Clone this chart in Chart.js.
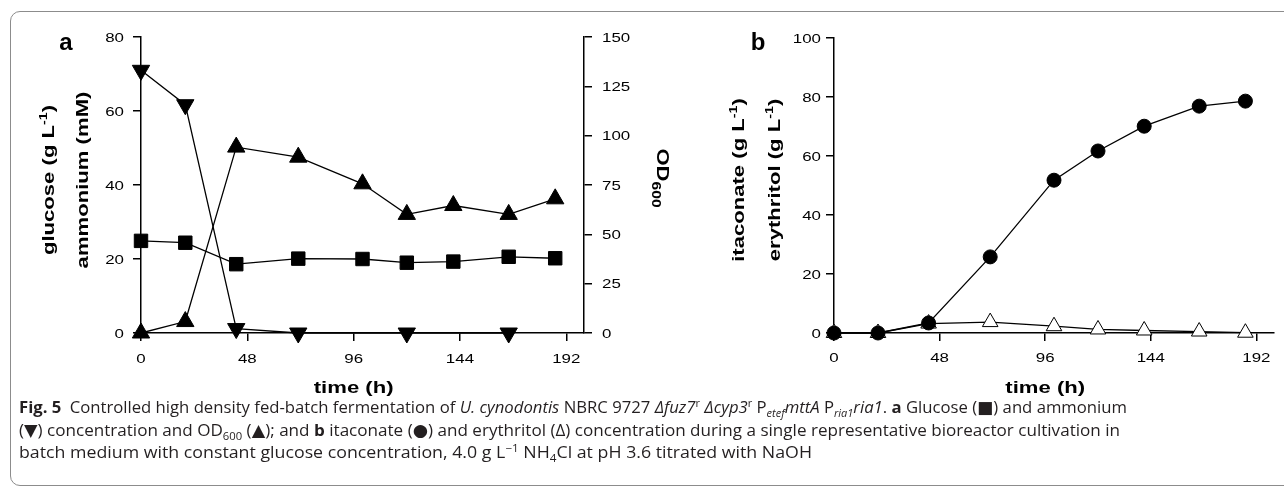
<!DOCTYPE html>
<html>
<head>
<meta charset="utf-8">
<script src="https://cdn.jsdelivr.net/npm/chart.js@4.4.1/dist/chart.umd.min.js"></script>
<style>
html, body { margin: 0; padding: 0; background: #fff; width: 1284px; height: 494px; overflow: hidden; }
#frame { position: absolute; left: 10px; top: 11px; width: 1320px; height: 475px; border: 1.5px solid #8c8c8c; border-radius: 10px; box-sizing: border-box; }
#chartA { position: absolute; left: 0; top: 0; }
#chartB { position: absolute; left: 640px; top: 0; }
#caption { position: absolute; left: 19px; top: 396px; font-family: "Open Sans", "Noto Sans", sans-serif; font-size: 16.5px; color: #231f20; }
#caption div { white-space: nowrap; line-height: 22.5px; transform-origin: 0 0; width: max-content; }
#caption sub, #caption sup { font-size: 66%; line-height: 0; }
#caption .sim { font-family: "DejaVu Sans", sans-serif; font-size: 17px; }
</style>
</head>
<body>
<div id="frame"></div>
<canvas id="chartA" width="700" height="400"></canvas>
<canvas id="chartB" width="644" height="400"></canvas>
<div id="caption">
  <div data-fin="1127"><b>Fig. 5</b>&ensp;Controlled high density fed-batch fermentation of <i>U. cynodontis</i> NBRC 9727 <i>Δfuz7</i><sup>r</sup> <i>Δcyp3</i><sup>r</sup> P<sub><i>etef</i></sub><i>mttA</i> P<sub><i>ria1</i></sub><i>ria1</i>. <b>a</b> Glucose (<span class="sim">■</span>) and ammonium</div>
  <div data-fin="1120">(<span class="sim">▼</span>) concentration and OD<sub>600</sub> (<span class="sim">▲</span>); and <b>b</b> itaconate (<span class="sim">●</span>) and erythritol (Δ) concentration during a single representative bioreactor cultivation in</div>
  <div data-fin="812">batch medium with constant glucose concentration, 4.0 g L<sup>−1</sup> NH<sub>4</sub>Cl at pH 3.6 titrated with NaOH</div>
</div>
<script>
// valores
const tiempoA = [0, 20, 43, 71, 100, 120, 141, 166, 187];
const glucosa = [24.9, 24.4, 18.6, 20.1, 20.0, 19.0, 19.3, 20.6, 20.2];
const amonio = [71.0, 61.7, 1.2, 0, null, 0, null, 0, null];
const od600 = [0, 5.8, 94.2, 89.1, 75.6, 60.1, 64.6, 60.1, 68.0];

const tiempoB = [0, 20, 43, 71, 100, 120, 141, 166, 187];
const itaconato = [0, 0, 3.4, 25.8, 51.8, 61.7, 70.1, 76.9, 78.6];
const eritritol = [0, 0, 3.2, 3.7, 2.3, 1.2, 0.85, 0.5, 0.1];

const ticksTiempo = [0, 48, 96, 144, 192];
const ticksIzqA = [0, 20, 40, 60, 80];
const ticksDerA = [0, 25, 50, 75, 100, 125, 150];
const ticksIzqB = [0, 20, 40, 60, 80, 100];

const FUENTE = '"Liberation Sans", Arial, sans-serif';
const ESTIRA = 1.3;

function puntos(xs, ys) {
  return xs.map((x, i) => ({ x: x, y: ys[i] }));
}

// texto con partes (super/subindices), rotado y estirado a lo largo
function texto(ctx, partes, x, y, rot, sx, align) {
  ctx.save();
  ctx.translate(x, y);
  ctx.rotate(rot);
  ctx.scale(sx, 1);
  let ancho = 0;
  partes.forEach(p => { ctx.font = p.f; p.w = ctx.measureText(p.t).width; ancho += p.w; });
  let cx = align === 'center' ? -ancho / 2 : (align === 'right' ? -ancho : 0);
  ctx.textAlign = 'left';
  ctx.textBaseline = 'alphabetic';
  ctx.fillStyle = '#000';
  partes.forEach(p => { ctx.font = p.f; ctx.fillText(p.t, cx, p.dy || 0); cx += p.w; });
  ctx.restore();
}

const B17 = 'bold 17px ' + FUENTE;
const B11 = 'bold 11px ' + FUENTE;
const R13 = '13px ' + FUENTE;

function gL(nombre) {
  return [{ t: nombre + ' (g L', f: B17 }, { t: '-1', f: B11, dy: -7 }, { t: ')', f: B17 }];
}

function ejeFijo(lista) {
  return {
    afterBuildTicks: s => { s.ticks = lista.map(v => ({ value: v })); },
    afterFit: s => { if (s.isHorizontal()) s.height = 0; else s.width = 0; }
  };
}

function estiloEje(pos, min, max, lista) {
  return Object.assign({
    type: 'linear', position: pos, min: min, max: max,
    ticks: { display: false },
    grid: { display: true, drawOnChartArea: false, color: '#000', lineWidth: 1.5, tickLength: 8 },
    border: { display: true, color: '#000', width: 1.5 }
  }, ejeFijo(lista));
}

function etiquetas(cfg) {
  return {
    id: 'etiquetas',
    afterDraw(chart) {
      const ctx = chart.ctx;
      const ca = chart.chartArea;
      const sx = chart.scales.x;
      sx.ticks.forEach(t => {
        texto(ctx, [{ t: String(t.value), f: R13 }], sx.getPixelForValue(t.value), ca.bottom + cfg.xLab, 0, ESTIRA, 'center');
      });
      const sy = chart.scales.y;
      sy.ticks.forEach(t => {
        texto(ctx, [{ t: String(t.value), f: R13 }], ca.left - cfg.yLab, sy.getPixelForValue(t.value) + 4.7, 0, ESTIRA, 'right');
      });
      if (chart.scales.y2) {
        const s2 = chart.scales.y2;
        s2.ticks.forEach(t => {
          texto(ctx, [{ t: String(t.value), f: R13 }], ca.right + 18, s2.getPixelForValue(t.value) + 4.7, 0, ESTIRA, 'left');
        });
        texto(ctx, [{ t: 'OD', f: B17 }, { t: '600', f: 'bold 12px ' + FUENTE, dy: 5 }], ca.right + 73, 178, Math.PI / 2, ESTIRA, 'center');
      }
      texto(ctx, [{ t: 'time (h)', f: B17 }], sx.getPixelForValue(96), ca.bottom + 60, 0, ESTIRA, 'center');
      cfg.titulos.forEach(ti => {
        texto(ctx, ti.partes, ti.x, 180, -Math.PI / 2, ESTIRA, 'center');
      });
      ctx.save();
      ctx.font = 'bold 24px ' + FUENTE;
      ctx.fillStyle = '#000';
      ctx.textAlign = 'center';
      ctx.fillText(cfg.letra, cfg.letraX, 50);
      ctx.restore();
    }
  };
}

const base = {
  responsive: false,
  animation: false,
  events: [],
  plugins: { legend: { display: false }, tooltip: { enabled: false } }
};

const linea = { borderColor: '#000', borderWidth: 1.3, tension: 0, spanGaps: true, clip: false, pointBorderColor: '#000', pointBorderWidth: 1 };

new Chart(document.getElementById('chartA'), {
  type: 'line',
  data: {
    datasets: [
      Object.assign({ label: 'glucose', data: puntos(tiempoA, glucosa), yAxisID: 'y', pointStyle: 'rect', pointRadius: 9.5, pointBackgroundColor: '#000' }, linea),
      Object.assign({ label: 'ammonium', data: puntos(tiempoA, amonio), yAxisID: 'y', pointStyle: 'triangle', pointRotation: 180, pointRadius: 10, pointBackgroundColor: '#000' }, linea),
      Object.assign({ label: 'OD600', data: puntos(tiempoA, od600), yAxisID: 'y2', pointStyle: 'triangle', pointRadius: 10, pointBackgroundColor: '#000' }, linea)
    ]
  },
  options: Object.assign({}, base, {
    layout: { padding: { left: 141, right: 116, top: 37, bottom: 67 } },
    scales: {
      x: estiloEje('bottom', 0, 200, ticksTiempo),
      y: estiloEje('left', 0, 80, ticksIzqA),
      y2: estiloEje('right', 0, 150, ticksDerA)
    }
  }),
  plugins: [etiquetas({
    xLab: 30, yLab: 17, letra: 'a', letraX: 66,
    titulos: [{ x: 53.5, partes: gL('glucose') }, { x: 88, partes: [{ t: 'ammonium (mM)', f: B17 }] }]
  })]
});

new Chart(document.getElementById('chartB'), {
  type: 'line',
  data: {
    datasets: [
      Object.assign({ label: 'itaconate', data: puntos(tiempoB, itaconato), pointStyle: 'circle', pointRadius: 7, pointBackgroundColor: '#000' }, linea),
      Object.assign({ label: 'erythritol', data: puntos(tiempoB, eritritol), pointStyle: 'triangle', pointRadius: 9, pointBackgroundColor: '#fff' }, linea)
    ]
  },
  options: Object.assign({}, base, {
    layout: { padding: { left: 194, right: 6, top: 38, bottom: 67 } },
    scales: {
      x: estiloEje('bottom', 0, 200, ticksTiempo),
      y: estiloEje('left', 0, 100, ticksIzqB)
    }
  }),
  plugins: [etiquetas({
    xLab: 29, yLab: 13, letra: 'b', letraX: 118,
    titulos: [{ x: 103.5, partes: gL('itaconate') }, { x: 139.5, partes: gL('erythritol') }]
  })]
});

// ajustar cada linea del pie de figura a su ancho
const inicio = 19;
document.querySelectorAll('#caption div').forEach(d => {
  const w = d.getBoundingClientRect().width;
  d.style.transform = 'scaleX(' + ((Number(d.dataset.fin) - inicio) / w) + ')';
});
</script>
</body>
</html>
